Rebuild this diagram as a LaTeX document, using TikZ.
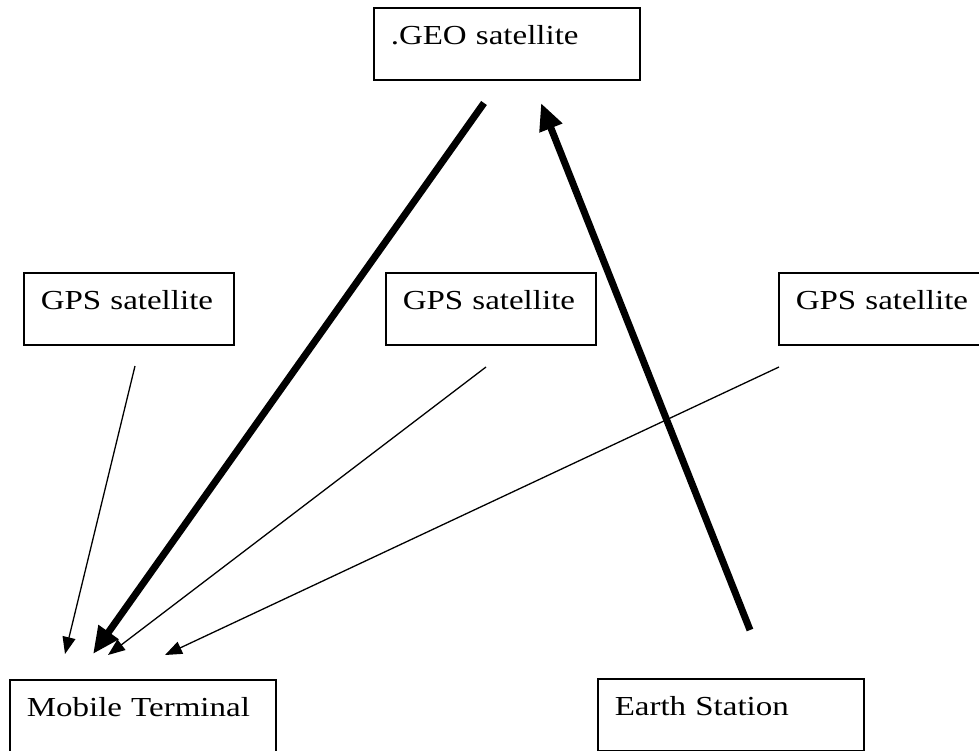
\documentclass[tikz,border=0pt]{standalone}
\usepackage{fontspec}
\setmainfont{Liberation Serif}[FakeStretch=1.2]
\usetikzlibrary{arrows.meta}
\begin{document}
\begin{tikzpicture}[x=1pt,y=-1pt,
  box/.style={draw, line width=1.5pt, anchor=north west, inner xsep=17pt, inner ysep=0pt,
    text width=#1-34pt, align=left, text height=37pt, text depth=35pt,
    font=\fontsize{27.5}{32}\selectfont},
  thin/.style={line width=1.3pt, -{Triangle[length=17pt,width=13pt]}},
  thick/.style={line width=7pt, -{Triangle[length=27pt,width=23pt]}}]
\useasboundingbox (0,0) rectangle (979,750);
\node[box=266pt] (geo) at (373,7) {.GEO satellite};
\node[box=210pt] (gps1) at (23,272) {GPS satellite};
\node[box=210pt] (gps2) at (385,272) {GPS satellite};
\node[box=210pt] (gps3) at (778,272) {GPS satellite};
\node[box=266pt] (mt) at (9,679) {Mobile Terminal};
\node[box=266pt] (es) at (597,678) {Earth Station};
\coordinate (geoOut) at (484,103);
\coordinate (geoIn) at (541,103);
\coordinate (gps1Out) at (135,366);
\coordinate (gps2Out) at (486,367);
\coordinate (gps3Out) at (779,367);
\coordinate (esOut) at (750,630);
\coordinate (mtIn1) at (65,654);
\coordinate (mtIn2) at (93,654);
\coordinate (mtIn3) at (108,655);
\coordinate (mtIn4) at (165,655);
\draw[thick] (geoOut) -- (mtIn2);
\draw[thick] (esOut) -- (geoIn);
\draw[thin] (gps1Out) -- (mtIn1);
\draw[thin] (gps2Out) -- (mtIn3);
\draw[thin] (gps3Out) -- (mtIn4);
\end{tikzpicture}
\end{document}
